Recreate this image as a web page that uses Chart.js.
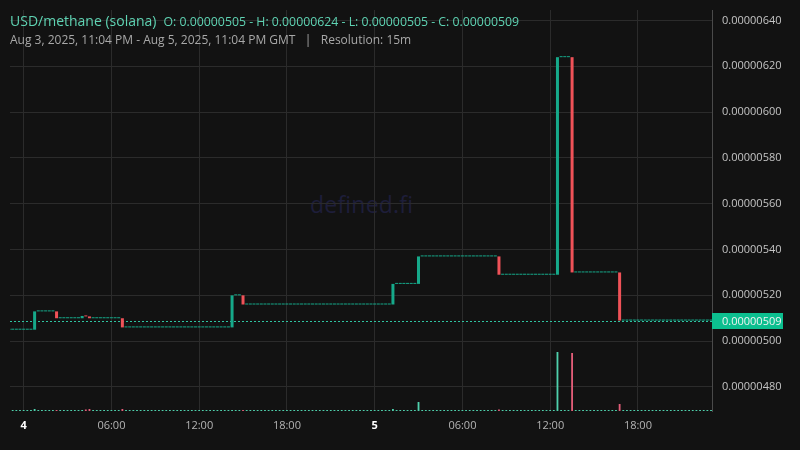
<!DOCTYPE html>
<html>
<head>
<meta charset="utf-8">
<script src="https://cdn.jsdelivr.net/npm/chart.js@4.4.1/dist/chart.umd.min.js"></script>
<style>
  html, body { margin: 0; padding: 0; background: #121212; }
  #wrap { position: relative; width: 800px; height: 450px; font-family: "Open Sans", "Noto Sans", sans-serif; overflow: hidden; }
  #wrap canvas { position: absolute; left: 0; top: 0; }
  .mark { position: absolute; left: 310px; top: 188px; font-size: 23px; color: #1e1e3a; letter-spacing: 0.2px; }
  .head1 { position: absolute; left: 10px; top: 9px; color: #5fd3b3; white-space: nowrap; }
  .head1 .pair { font-size: 14px; }
  .head1 .ohlc { font-size: 12.3px; margin-left: 7px; }
  .head2 { position: absolute; left: 10px; top: 31px; color: #a8a8a8; font-size: 12px; white-space: pre; }
</style>
</head>
<body>
<div id="wrap">
  <div class="mark">defined.fi</div>
  <canvas id="priceChart" width="800" height="450"></canvas>
  <div class="head1"><span class="pair">USD/methane (solana)</span><span class="ohlc">O: 0.00000505 - H: 0.00000624 - L: 0.00000505 - C: 0.00000509</span></div>
  <div class="head2">Aug 3, 2025, 11:04 PM - Aug 5, 2025, 11:04 PM GMT   |   Resolution: 15m</div>
</div>
<script>
// prices in units of 1e-8 USD, one close per 15m candle, first candle Aug 3 23:00
const firstOpen = 505;
const closes = [
  505, 505, 505, 505, 505, 505, 505, 513, 513, 513, 513, 513,
  513, 510, 510, 510, 510, 510, 510, 510, 511, 510.8, 510, 510,
  510, 510, 510, 510, 510, 510, 510, 506, 506, 506, 506, 506,
  506, 506, 506, 506, 506, 506, 506, 506, 506, 506, 506, 506,
  506, 506, 506, 506, 506, 506, 506, 506, 506, 506, 506, 506,
  506, 520, 520, 520, 516, 516, 516, 516, 516, 516, 516, 516,
  516, 516, 516, 516, 516, 516, 516, 516, 516, 516, 516, 516,
  516, 516, 516, 516, 516, 516, 516, 516, 516, 516, 516, 516,
  516, 516, 516, 516, 516, 516, 516, 516, 516, 525, 525, 525,
  525, 525, 525, 525, 537, 537, 537, 537, 537, 537, 537, 537,
  537, 537, 537, 537, 537, 537, 537, 537, 537, 537, 537, 537,
  537, 537, 529, 529, 529, 529, 529, 529, 529, 529, 529, 529,
  529, 529, 529, 529, 529, 529, 624, 624, 624, 624, 530, 530,
  530, 530, 530, 530, 530, 530, 530, 530, 530, 530, 530, 509,
  509, 509, 509, 509, 509, 509, 509, 509, 509, 509, 509, 509,
  509, 509, 509, 509, 509, 509, 509, 509, 509, 509, 509, 509,
  509
];
const volumes = [
  1, 1, 1, 1, 1, 1, 1, 2, 1, 1, 1, 1,
  1, 1, 1, 1, 1, 1, 1, 1, 1, 1.5, 2, 1,
  1, 1, 1, 1, 1, 1, 1, 2, 1, 1, 1, 1,
  1, 1, 1, 1, 1, 1, 1, 1, 1, 1, 1, 1,
  1, 1, 1, 1, 1, 1, 1, 1, 1, 1, 1, 1,
  1, 1, 1, 1, 1, 1, 1, 1, 1, 1, 1, 1,
  1, 1, 1, 1, 1, 1, 1, 1, 1, 1, 1, 1,
  1, 1, 1, 1, 1, 1, 1, 1, 1, 1, 1, 1,
  1, 1, 1, 1, 1, 1, 1, 1, 1, 2, 1, 1,
  1, 1, 1, 1, 9, 1, 1, 1, 1, 1, 1, 1,
  1, 1, 1, 1, 1, 1, 1, 1, 1, 1, 1, 1,
  1, 1, 1.5, 1, 1, 1, 1, 1, 1, 1, 1, 1,
  1, 1, 1, 1, 1, 1, 59, 1, 1, 1, 58, 1,
  1, 1, 1, 1, 1, 1, 1, 1, 1, 1, 1, 7,
  1, 1, 1, 1, 1, 1, 1, 1, 1, 1, 1, 1,
  1, 1, 1, 1, 1, 1, 1, 1, 1, 1, 1, 1,
  1
];
const lastPrice = 509;

// time axis in minutes from Aug 4 00:00
const firstCandleMin = -60;
const candleMin = 15;
const viewStart = -56;   // Aug 3 23:04
const viewEnd = 2824;    // Aug 5 23:04
const xTicks = [0, 360, 720, 1080, 1440, 1800, 2160, 2520];
const yTicks = [480, 500, 520, 540, 560, 580, 600, 620, 640];

const GREEN = '#16a98a';
const RED = '#ef5258';
const VOL_GREEN = '#4fd0ac';
const VOL_RED = '#e25d78';
const GRID = '#2b2b2b';
const FONT = '"Open Sans", "Noto Sans", sans-serif';

const times = closes.map((c, i) => firstCandleMin + i * candleMin);
const opens = closes.map((c, i) => i === 0 ? firstOpen : closes[i - 1]);
const isUp = closes.map((c, i) => c >= opens[i]);

const isDay = c => !!c.tick && c.tick.value % 1440 === 0;

const priceTag = {
  id: 'priceTag',
  beforeDatasetsDraw(chart) {
    const { ctx, chartArea } = chart;
    const y = Math.round(chart.scales.y.getPixelForValue(lastPrice)) + 0.5;
    ctx.save();
    ctx.strokeStyle = '#2fc3a0';
    ctx.lineWidth = 1;
    ctx.setLineDash([2, 2]);
    ctx.beginPath();
    ctx.moveTo(chartArea.left, y);
    ctx.lineTo(chartArea.right, y);
    ctx.stroke();
    ctx.restore();
  },
  afterDraw(chart) {
    const { ctx, chartArea } = chart;
    const y = Math.round(chart.scales.y.getPixelForValue(lastPrice));
    ctx.save();
    ctx.fillStyle = '#0cbf8f';
    ctx.fillRect(chartArea.right, y - 8, 71, 16);
    ctx.fillStyle = '#f2f2f2';
    ctx.font = '11px ' + FONT;
    ctx.textBaseline = 'middle';
    ctx.fillText((lastPrice / 1e8).toFixed(8), chartArea.right + 10, y + 0.5);
    ctx.restore();
  }
};

const ctx = document.getElementById('priceChart').getContext('2d');
const priceChart = new Chart(ctx, {
  type: 'bar',
  data: {
    datasets: [{
      label: 'Price',
      data: times.map((t, i) => ({ x: t, y: [opens[i], closes[i]] })),
      yAxisID: 'y',
      backgroundColor: isUp.map(u => u ? GREEN : RED),
      barPercentage: 0.82,
      categoryPercentage: 1,
      minBarLength: 1,
      grouped: false,
      order: 1
    }, {
      label: 'Volume',
      data: times.map((t, i) => ({ x: t, y: volumes[i] })),
      yAxisID: 'vol',
      backgroundColor: isUp.map(u => u ? VOL_GREEN : VOL_RED),
      barPercentage: 0.5,
      categoryPercentage: 1,
      grouped: false,
      order: 2
    }]
  },
  options: {
    responsive: false,
    animation: false,
    layout: { padding: { left: 10, top: 10, right: 0, bottom: 0 } },
    plugins: { legend: { display: false }, tooltip: { enabled: false } },
    scales: {
      x: {
        type: 'linear',
        min: viewStart,
        max: viewEnd,
        offset: false,
        afterBuildTicks: axis => { axis.ticks = xTicks.map(v => ({ value: v })); },
        afterFit: axis => { axis.height = 39; axis.paddingLeft = 0; axis.paddingRight = 0; },
        grid: { color: GRID, drawTicks: false, offset: false },
        border: { display: false },
        ticks: {
          padding: 8,
          autoSkip: false,
          maxRotation: 0,
          color: c => isDay(c) ? '#ffffff' : '#b4b4b4',
          font: c => ({ family: FONT, size: 11, weight: isDay(c) ? 'bold' : 'normal' }),
          callback: v => {
            if (v % 1440 === 0) return String(4 + v / 1440);
            const h = (v / 60) % 24;
            return (h < 10 ? '0' : '') + h + ':00';
          }
        }
      },
      y: {
        position: 'right',
        min: 469.5,
        max: 644.6,
        afterBuildTicks: axis => { axis.ticks = yTicks.map(v => ({ value: v })); },
        afterFit: axis => { axis.width = 88; axis.paddingTop = 0; axis.paddingBottom = 0; },
        grid: { color: GRID, drawTicks: false },
        border: { color: '#4a4a4a' },
        ticks: {
          padding: 10,
          color: '#c4c4c4',
          font: { family: FONT, size: 11 },
          callback: v => (v / 1e8).toFixed(8)
        }
      },
      vol: { display: false, min: 0, max: 401 }
    }
  },
  plugins: [priceTag]
});
</script>
</body>
</html>
